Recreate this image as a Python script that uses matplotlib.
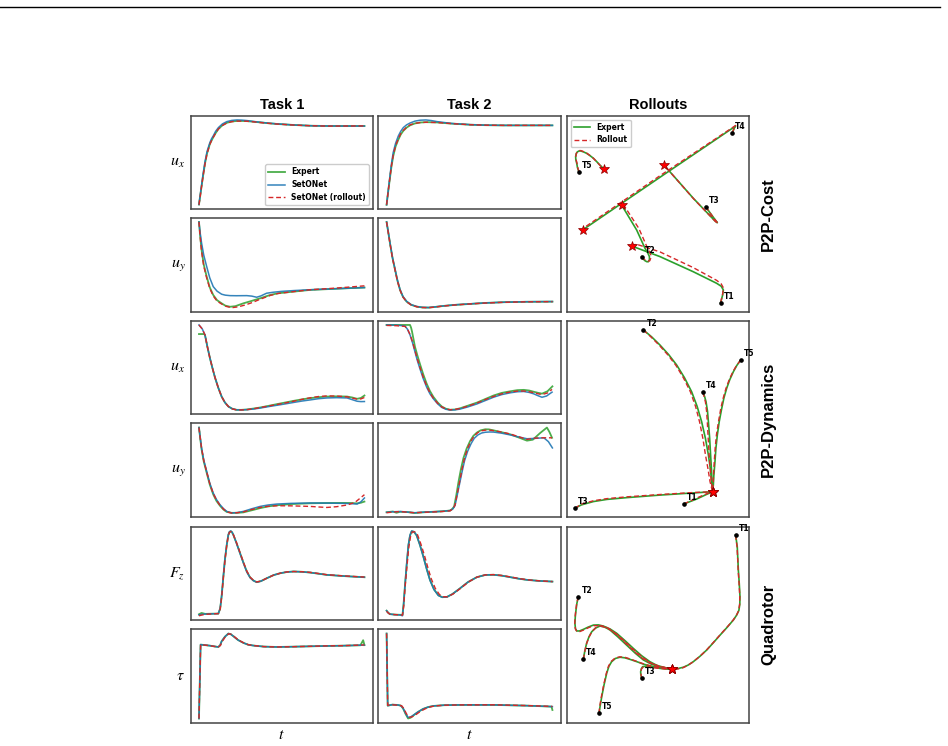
"""
Expert vs SetONet control signals (Task 1 / Task 2) and closed-loop rollouts
for the P2P-Cost, P2P-Dynamics and Quadrotor problems.
Values were read off the published figure (time and signal in % of panel).
"""
import matplotlib
matplotlib.use("Agg")
import matplotlib.pyplot as plt
from matplotlib.lines import Line2D

plt.rcParams.update({
    "font.family": "DejaVu Sans",
    "mathtext.fontset": "stix",
    "axes.linewidth": 1.1,
    "axes.edgecolor": "#444444",
})

C_EXPERT = "tab:green"
C_SETONET = "tab:blue"
C_ROLLOUT = "tab:red"
DASH = (0, (3.5, 2))

# ---------------------------------------------------------------- signals
# (t, value) pairs, both in % of the panel
cost_t1_ux_expert = [(4.6, 4.3), (5.3, 14), (6.0, 23.9), (6.8, 35), (7.9, 49), (9.0, 60), (10.6, 70.4),
                     (11.5, 74), (12.4, 77.5), (13.7, 82), (15.2, 86.5), (17.4, 90.5), (19.8, 93.2),
                     (22.5, 94.6), (25.3, 95.2), (28, 95.2), (30.8, 95.0), (34.5, 94.3), (38.1, 93.6),
                     (42.5, 92.7), (47.3, 91.9), (56.4, 90.8), (65.5, 90.0), (74.7, 89.7), (94.8, 89.7)]
cost_t1_ux_setonet = [(4.6, 4.3), (5.3, 15), (6.0, 25), (6.8, 37), (7.9, 51), (9.0, 62), (10.6, 72),
                      (11.5, 76), (12.4, 79), (13.7, 84), (15.2, 88), (17.4, 92), (19.8, 94.5),
                      (22.5, 95.8), (25.3, 96.3), (28, 96.1), (30.8, 95.6), (34.5, 94.6), (38.1, 93.8),
                      (42.5, 92.8), (47.3, 92.0), (56.4, 90.8), (65.5, 90.0), (74.7, 89.7), (94.8, 89.6)]
cost_t1_ux_rollout = [(4.6, 4.0), (5.3, 13.5), (6.0, 23.5), (6.8, 34.5), (7.9, 48.5), (9.0, 59.5),
                      (10.6, 70), (11.5, 74), (12.4, 77.5), (13.7, 82), (15.2, 86.5), (17.4, 90.3),
                      (19.8, 93.0), (22.5, 94.4), (25.3, 95.0), (28, 95.0), (30.8, 94.9), (34.5, 94.2),
                      (38.1, 93.4), (42.5, 92.6), (47.3, 91.8), (56.4, 90.7), (65.5, 90.0), (74.7, 89.6),
                      (94.8, 89.8)]

cost_t2_ux_expert = [(4.6, 4.3), (5.5, 19), (6.4, 33), (7.2, 45), (8.2, 57), (9.5, 67.5), (11.0, 75),
                     (12.3, 80.5), (13.7, 84.5), (15.5, 88), (17.4, 90.5), (20, 92.5), (22.8, 93.5),
                     (26, 93.9), (32.0, 93.6), (40, 92.3), (50.2, 91.1), (59, 90.6), (68.5, 90.4), (94.8, 90.4)]
cost_t2_ux_setonet = [(4.6, 4.3), (5.5, 20), (6.4, 35), (7.2, 48), (8.2, 61), (9.5, 71), (11.0, 79),
                      (12.3, 84), (13.7, 88), (15.5, 91), (17.4, 93), (20, 95), (22.8, 96), (26, 96.3),
                      (29, 95.6), (32.0, 94.5), (40, 92.5), (50.2, 91.2), (59, 90.6), (68.5, 90.4), (94.8, 90.4)]
cost_t2_ux_rollout = [(4.6, 4.3), (5.5, 19.3), (6.4, 33.5), (7.2, 46), (8.2, 58), (9.5, 68.5), (11.0, 76),
                      (12.3, 81.5), (13.7, 85), (15.5, 88.5), (17.4, 91), (20, 92.6), (22.8, 93.4),
                      (26, 93.8), (32.0, 93.5), (40, 92.3), (50.2, 91.1), (59, 90.6), (68.5, 90.4), (94.8, 90.4)]

cost_t1_uy_expert = [(4.6, 94.7), (5.2, 81), (6.0, 65.7), (7.2, 50), (8.8, 37.4), (10.5, 26), (12.4, 18),
                     (14.5, 12.5), (17.0, 9.2), (19, 6.8), (21.6, 5.6), (24.5, 6.2), (28.9, 9.2), (33, 11.5),
                     (38.1, 14.5), (43.6, 18), (48, 19.8), (56.4, 21.5), (65.5, 23.3), (74.7, 24.1),
                     (85, 25), (95.2, 25.8)]
cost_t1_uy_setonet = [(4.6, 94.7), (5.2, 84), (6.0, 72.9), (7.2, 60), (8.8, 48), (10.5, 36), (12.4, 26.8),
                      (14.5, 22), (17.0, 18.8), (19, 17.8), (21.6, 17.3), (25, 17.2), (30.8, 17.3),
                      (33.5, 16.8), (36.2, 15.6), (38.5, 17), (41.6, 19.8), (45, 20.8), (50, 21.8),
                      (56.4, 22.6), (65.5, 23.5), (74.7, 24.2), (85, 25), (95.2, 25.8)]
cost_t1_uy_rollout = [(4.6, 94.7), (5.2, 80), (6.0, 64), (7.2, 48.5), (8.8, 36), (10.5, 25), (12.4, 17),
                      (14.5, 11.5), (17.0, 8.5), (19.5, 6), (22.5, 4.6), (26, 5.5), (30, 7.5), (34, 10.2),
                      (38.1, 13.5), (43.6, 17.5), (48, 19.6), (56.4, 21.5), (65.5, 23.5), (74.7, 24.6),
                      (85, 26), (95.2, 27.6)]

cost_t2_uy_expert = [(4.6, 94.7), (5.5, 84), (6.4, 72.9), (7.8, 57), (9.2, 44.5), (10.5, 33), (11.9, 23.3),
                     (13.5, 16), (15.5, 10.9), (18, 7.5), (21.0, 5.6), (24, 4.8), (27.4, 4.6), (31, 5.3),
                     (35.6, 6.4), (42, 7.5), (50.2, 8.5), (58, 9.5), (68.5, 10.3), (80, 10.7), (94.8, 10.9)]
cost_t2_uy_setonet = [(4.6, 94.7), (5.5, 84.5), (6.4, 73.5), (7.8, 57.5), (9.2, 45), (10.5, 33.5),
                      (11.9, 23.8), (13.5, 16.3), (15.5, 11.2), (18, 7.7), (21.0, 5.8), (24, 4.9),
                      (27.4, 4.7), (31, 5.4), (35.6, 6.4), (42, 7.6), (50.2, 8.6), (58, 9.5), (68.5, 10.3),
                      (80, 10.8), (94.8, 11.0)]
cost_t2_uy_rollout = [(4.6, 94.7), (5.5, 83.5), (6.4, 72.5), (7.8, 56.5), (9.2, 44), (10.5, 32.5),
                      (11.9, 23), (13.5, 15.7), (15.5, 10.7), (18, 7.3), (21.0, 5.5), (24, 4.7), (27.4, 4.5),
                      (31, 5.2), (35.6, 6.3), (42, 7.4), (50.2, 8.5), (58, 9.4), (68.5, 10.2), (80, 10.7),
                      (94.8, 10.9)]

dyn_t1_ux_expert = [(4.6, 85.5), (7.5, 85.5), (7.9, 84.4), (9.2, 72), (10.6, 59.8), (12, 49), (13.4, 38.9),
                    (15.2, 28), (17.0, 18.8), (18.8, 12.5), (20.7, 8.2), (22.8, 5.8), (25.3, 4.6),
                    (27.8, 4.6), (30.8, 5.0), (34.5, 6.0), (38.1, 7.1), (42.5, 8.8), (47.3, 10.7), (52, 12.5),
                    (56.4, 14.2), (61, 15.8), (65.5, 17.1), (70, 18.1), (74.7, 18.8), (80, 19), (85.7, 18.8),
                    (88.5, 17.8), (91.2, 16.4), (93.3, 17.3), (95.2, 19.9)]
dyn_t1_ux_setonet = [(4.6, 95.2), (6.4, 91), (7.9, 84.4), (9.2, 72), (10.6, 59.8), (12, 49), (13.4, 38.9),
                     (15.2, 28), (17.0, 18.8), (18.8, 12.5), (20.7, 8.2), (22.8, 5.8), (25.3, 4.6),
                     (27.8, 4.6), (30.8, 4.8), (34.5, 5.5), (38.1, 6.5), (42.5, 8), (47.3, 9.5), (52, 11),
                     (56.4, 12.5), (61, 14), (65.5, 15.2), (70, 16.5), (74.7, 17.3), (80, 17.6), (85.7, 17.3),
                     (88.5, 15.5), (91.2, 13.8), (93.3, 13.4), (95.2, 13.5)]
dyn_t1_ux_rollout = [(4.6, 95.2), (6.4, 91), (7.9, 84.4), (9.2, 72), (10.6, 59.8), (12, 49), (13.4, 38.9),
                     (15.2, 28), (17.0, 18.8), (18.8, 12.5), (20.7, 8.2), (22.8, 5.7), (25.3, 4.4),
                     (27.8, 4.5), (30.8, 4.8), (34.5, 5.8), (38.1, 7.0), (42.5, 8.6), (47.3, 10.3), (52, 12),
                     (56.4, 13.8), (61, 15.8), (65.5, 17.5), (70, 18.8), (74.7, 19.5), (80, 19.3),
                     (85.7, 18.5), (88.5, 17.2), (91.2, 16.0), (93.3, 16.3), (95.2, 17.8)]

dyn_t2_ux_expert = [(4.6, 95), (17.4, 95), (18.0, 92), (18.5, 88), (19.3, 80), (20.1, 72), (21.4, 63),
                    (22.8, 54), (24.6, 43), (26.5, 33), (28.3, 25.2), (30.2, 19), (32.5, 13.2), (34.7, 9),
                    (37, 6.6), (39.3, 5.5), (42, 5.8), (44.7, 7), (49, 9.8), (53.9, 13), (58.5, 16.8),
                    (63.0, 20.5), (67.5, 23.3), (72.2, 25), (76, 26.2), (79.5, 26.5), (82.5, 25.8),
                    (85.0, 24.5), (87.5, 23.3), (89.5, 22.5), (92.5, 25), (95.2, 30.2)]
dyn_t2_ux_setonet = [(4.6, 95), (10, 94.8), (14.6, 94), (16, 90.5), (17.4, 84.5), (18.8, 76), (20.1, 66.7),
                     (21.4, 57.5), (22.8, 48.9), (24.6, 38.5), (26.5, 29.3), (28.3, 22.3), (30.2, 17),
                     (32.5, 11.8), (34.7, 8), (37, 6), (39.3, 5.2), (42, 5.4), (44.7, 6.2), (49, 8.5),
                     (53.9, 11.6), (58.5, 15.2), (63.0, 18.7), (67.5, 21.5), (72.2, 23.4), (76, 24.5),
                     (79.5, 24.8), (82.5, 23.8), (85.0, 22.3), (87.5, 20.2), (89.5, 18.7), (92, 20), (95.0, 24.1)]
dyn_t2_ux_rollout = [(4.6, 94.5), (10, 94.2), (14.6, 93.5), (16, 90.8), (17.4, 85), (18.8, 77), (20.1, 68),
                     (21.4, 59), (22.8, 50.5), (24.6, 40), (26.5, 30.5), (28.3, 23.3), (30.2, 17.5),
                     (32.5, 12.3), (34.7, 8.5), (37, 6.4), (39.3, 5.5), (42, 5.9), (44.7, 6.8), (49, 9.3),
                     (53.9, 12.5), (58.5, 16.2), (63.0, 19.5), (67.5, 22.3), (72.2, 24.3), (76, 25.2),
                     (79.5, 25.3), (82.5, 24.5), (85.0, 23.5), (87.5, 22.3), (89.5, 21.5), (92.5, 23.2),
                     (95.0, 27)]

dyn_t1_uy_expert = [(4.6, 94.7), (5.3, 83), (6.0, 72), (7.2, 59), (8.8, 47), (10.5, 34.5), (12.4, 24),
                    (14.2, 17), (16.1, 12), (18, 8), (19.8, 5.5), (22.5, 4.5), (25.5, 4.5), (28.9, 5.0),
                    (33.5, 7.2), (38.1, 9.5), (42.5, 11.3), (47.3, 12.5), (55, 13.8), (65.5, 14.6),
                    (75, 14.9), (83.9, 15.0), (88, 14.9), (91.2, 14.5), (93.3, 15.2), (95.2, 16.4)]
dyn_t1_uy_setonet = [(4.6, 94.7), (5.3, 84), (6.0, 73.4), (7.2, 60.5), (8.8, 48.5), (10.5, 36), (12.4, 25.5),
                     (14.2, 18.5), (16.1, 13.1), (18, 9), (19.8, 6.0), (22.5, 4.3), (25.5, 4.8), (28.9, 6.0),
                     (33.5, 8.8), (38.1, 11.3), (42.5, 12.8), (47.3, 13.8), (55, 14.5), (65.5, 14.9),
                     (75, 14.8), (83.9, 14.5), (88, 14.2), (91.2, 13.8), (93.3, 16.2), (95.2, 20.2)]
dyn_t1_uy_rollout = [(4.6, 94.7), (5.3, 83.5), (6.0, 73), (7.2, 60), (8.8, 48), (10.5, 35.5), (12.4, 25),
                     (14.2, 18), (16.1, 12.5), (18, 8.5), (19.8, 5.5), (22.5, 4.3), (25.5, 4.6), (28.9, 5.5),
                     (33.5, 8), (38.1, 10.2), (42.5, 11.4), (47.3, 12.0), (55, 11.9), (65.5, 11.3),
                     (70, 10.7), (74.7, 10.2), (80, 11), (85.7, 12.8), (90, 15.5), (95.2, 23.7)]

dyn_t2_uy_expert = [(4.6, 6.0), (8, 6.8), (10, 5.5), (12, 6.5), (16, 6.2), (20, 5.2), (25, 6.0), (30, 6.5),
                    (35, 7), (39.3, 7.8), (40.5, 9.5), (41.5, 12), (42.7, 24), (43.9, 37.9), (45.2, 51),
                    (46.6, 62.8), (48.3, 72.5), (50.2, 80.5), (52, 86), (53.9, 89.4), (56, 91.8), (58.5, 92.9),
                    (60.5, 92.8), (63.0, 91.8), (67.5, 89.8), (72.2, 87.6), (76.5, 84.5), (81.3, 81),
                    (84.5, 82), (88.5, 89), (92.2, 94.7), (93.6, 90), (95.0, 84)]
dyn_t2_uy_setonet = [(4.6, 6.0), (8, 6.5), (12, 6.8), (16, 6.2), (20, 5.5), (25, 6.2), (30, 6.5), (35, 7),
                     (39.3, 7.8), (40.8, 9.5), (42.0, 13.1), (43.2, 24), (44.5, 36), (45.8, 48), (47.2, 60),
                     (48.9, 70), (50.8, 78), (52.5, 83.5), (54.5, 87), (56.5, 89), (58.5, 89.8), (61, 90.1),
                     (63.0, 90), (67.5, 88.8), (72.2, 87), (76.5, 85), (81.3, 83), (85, 83.3), (90.5, 84),
                     (93, 80), (95.2, 73.4)]
dyn_t2_uy_rollout = [(4.6, 5.5), (8, 6.2), (12, 6.8), (16, 6.0), (20, 5.5), (25, 6.0), (30, 6.3), (35, 6.8),
                     (39.3, 7.5), (40.8, 9.6), (42.0, 13.5), (43.2, 25), (44.5, 38), (45.8, 51), (47.2, 63),
                     (48.9, 73), (50.8, 81), (52.5, 86), (54.5, 89.5), (56.5, 91.3), (58.5, 92), (61, 92),
                     (63.0, 91.5), (67.5, 90), (72.2, 88), (76.5, 85.3), (81.3, 82.3), (85, 83.5),
                     (88.6, 84), (95.0, 84)]

quad_t1_fz_expert = [(4.6, 6.1), (6.0, 7.5), (8.0, 6.5), (12, 6.7), (15.2, 6.8), (16.2, 12), (17.0, 25),
                     (17.9, 45), (18.8, 64.3), (19.8, 80), (20.7, 91.1), (21.3, 94), (22.0, 94.9),
                     (22.7, 93.8), (23.4, 91.1), (25.2, 82), (27.1, 71.5), (29.0, 61), (30.8, 51.8),
                     (32.6, 45.5), (34.4, 42.2), (36.2, 40.4), (38.5, 41.5), (41.8, 44.7), (45.5, 48),
                     (49.1, 50), (52.8, 51.3), (56.4, 51.8), (61, 51.5), (65.5, 50.7), (70, 49.5),
                     (74.7, 48.2), (85, 46.8), (95.2, 45.7)]
quad_t1_fz_setonet = [(4.6, 5.5), (6.0, 6.0), (8.0, 6.3), (12, 6.6), (15.2, 6.8), (16.2, 12.5), (17.0, 25.5),
                      (17.9, 46), (18.8, 65), (19.8, 80.8), (20.7, 91.5), (21.3, 94.4), (22.0, 95.2),
                      (22.7, 94.0), (23.4, 91.3), (25.2, 81.7), (27.1, 71), (29.0, 60.5), (30.8, 51.3),
                      (32.6, 45.2), (34.4, 42), (36.2, 40.4), (38.5, 41.5), (41.8, 44.7), (45.5, 48),
                      (49.1, 50), (52.8, 51.3), (56.4, 51.8), (61, 51.5), (65.5, 50.7), (70, 49.5),
                      (74.7, 48.2), (85, 46.8), (95.2, 45.7)]
quad_t1_fz_rollout = [(4.6, 4.5), (6.0, 5.2), (8.0, 6.0), (12, 6.5), (15.2, 6.8), (16.2, 11.5), (17.0, 24),
                      (17.9, 44), (18.8, 63), (19.8, 79.5), (20.7, 90.5), (21.3, 93.7), (22.0, 94.6),
                      (22.7, 93.8), (23.4, 91.3), (25.2, 82.5), (27.1, 72), (29.0, 61.5), (30.8, 52.3),
                      (32.6, 45.8), (34.4, 42.5), (36.2, 40.6), (38.5, 41.6), (41.8, 44.7), (45.5, 48),
                      (49.1, 50), (52.8, 51.4), (56.4, 51.8), (61, 51.6), (65.5, 50.9), (70, 49.7),
                      (74.7, 48.4), (85, 47), (95.2, 45.9)]

quad_t2_fz_expert = [(4.6, 10.7), (5.5, 8.5), (6.4, 7.1), (9, 6.6), (11.9, 6.4), (13.3, 6.4), (13.9, 18),
                     (14.6, 35.7), (15.5, 57), (16.5, 78.6), (17.4, 89), (18.3, 93.6), (19.6, 93), (21.0, 89.3),
                     (22.8, 79.5), (24.6, 67.9), (26.5, 54.5), (28.3, 42.9), (30.5, 33), (32.9, 26.8),
                     (35.0, 24.8), (37.5, 25), (40.5, 28), (44.7, 34), (49.0, 40.5), (53.9, 45.7), (58.5, 48),
                     (63.0, 48.2), (67.5, 47.3), (72.2, 45.7), (76.5, 44.2), (81.3, 42.9), (88, 41.8),
                     (95.2, 41.1)]
quad_t2_fz_setonet = [(4.6, 10.7), (5.5, 8.5), (6.4, 7.1), (9, 6.6), (11.9, 6.2), (13.3, 5.4), (13.9, 17),
                      (14.6, 35.7), (15.5, 58), (16.5, 79.5), (17.4, 89.8), (18.3, 94.0), (19.6, 93.3),
                      (21.0, 89.5), (22.8, 79.3), (24.6, 67.5), (26.5, 54), (28.3, 42.5), (30.5, 32.7),
                      (32.9, 26.5), (35.0, 24.7), (37.5, 25), (40.5, 28), (44.7, 34), (49.0, 40.5),
                      (53.9, 45.7), (58.5, 48), (63.0, 48.2), (67.5, 47.3), (72.2, 45.7), (76.5, 44.2),
                      (81.3, 42.9), (88, 41.8), (95.2, 41.1)]
quad_t2_fz_rollout = [(4.6, 10.0), (5.5, 8.3), (6.4, 7.1), (9, 6.6), (11.9, 6.4), (13.3, 6.0), (14.0, 16),
                      (14.6, 33), (15.6, 54), (16.6, 75), (17.6, 87.5), (18.6, 93), (20, 93), (21.5, 90),
                      (23.3, 80.5), (25.2, 69), (27.1, 56), (29.0, 44), (31.2, 34), (33.5, 27.5),
                      (35.6, 25.2), (38.0, 25.3), (41, 28.2), (45.0, 34), (49.3, 40.6), (53.9, 45.7),
                      (58.5, 48.1), (63.0, 48.4), (67.5, 47.5), (72.2, 46), (76.5, 44.5), (81.3, 43),
                      (88, 41.9), (95.2, 41.1)]

quad_t1_tau_expert = [(4.6, 4.5), (5.5, 83.1), (10.6, 82), (13, 81.2), (15.2, 80.6), (16.2, 82.5),
                      (17.0, 86.6), (18.8, 91.5), (20.7, 94.9), (22.0, 94.2), (23.4, 92.1), (26.0, 88),
                      (28.9, 85), (31.5, 83), (34.4, 82.1), (40, 81), (47.3, 80.6), (56, 80.9), (65.5, 81.3),
                      (75, 81.7), (83.9, 82), (93.0, 82.4), (94.5, 87.8), (95.2, 82.6)]
quad_t1_tau_setonet = [(4.6, 4.5), (5.5, 83.1), (10.6, 82), (13, 81.2), (15.2, 80.6), (16.2, 82.5),
                       (17.0, 86.6), (18.8, 91.5), (20.7, 94.9), (22.0, 94.2), (23.4, 92.1), (26.0, 88),
                       (28.9, 85), (31.5, 83), (34.4, 82.1), (40, 81), (47.3, 80.6), (56, 80.9),
                       (65.5, 81.3), (75, 81.7), (83.9, 82), (95.2, 82.6)]
quad_t1_tau_rollout = [(4.6, 4.5), (5.5, 83.1), (10.6, 82), (13, 81.2), (15.2, 80.6), (16.4, 82.3),
                       (17.2, 86.2), (19.0, 91.3), (20.9, 94.7), (22.2, 94.1), (23.6, 92.1), (26.2, 88),
                       (29.1, 85), (31.7, 83), (34.6, 82.1), (40, 81), (47.3, 80.6), (56, 80.9),
                       (65.5, 81.3), (75, 81.8), (83.9, 82), (95.2, 82.8)]

quad_t2_tau_expert = [(4.8, 93.8), (5.4, 17.1), (8.0, 18.2), (11, 17.8), (12.6, 17.1), (13.8, 14),
                      (15.2, 8), (16.5, 3.5), (17.8, 4.2), (19.2, 6.4), (21.8, 10.2), (24.6, 13.6),
                      (27.4, 15.6), (30.2, 16.8), (36, 17.6), (44.7, 17.9), (63.0, 17.9), (81.3, 17.1),
                      (94.5, 16.1), (95.0, 12.5)]
quad_t2_tau_setonet = [(4.8, 93.8), (5.4, 17.1), (8.0, 18.2), (11, 17.8), (12.6, 17.1), (13.8, 14.3),
                       (15.2, 8.6), (16.5, 4.6), (17.8, 5.0), (19.2, 6.8), (21.8, 10.4), (24.6, 13.6),
                       (27.4, 15.6), (30.2, 16.8), (36, 17.6), (44.7, 17.9), (63.0, 17.9), (81.3, 17.1),
                       (95.0, 16.1)]
quad_t2_tau_rollout = [(4.8, 93.8), (5.4, 17.5), (8.0, 18.0), (11, 17.6), (13.0, 17.0), (14.2, 14),
                       (15.6, 8.5), (17.0, 4.8), (18.3, 5.0), (20.0, 6.5), (22.6, 10.2), (25.5, 13.5),
                       (28.2, 15.6), (31.0, 16.8), (36.5, 17.6), (44.7, 17.9), (63.0, 18.0), (81.3, 17.2),
                       (95.0, 16.3)]

ROW_LABELS = [r"$u_x$", r"$u_y$", r"$u_x$", r"$u_y$", r"$F_z$", r"$\tau$"]
TASK1 = [
    (cost_t1_ux_expert, cost_t1_ux_setonet, cost_t1_ux_rollout),
    (cost_t1_uy_expert, cost_t1_uy_setonet, cost_t1_uy_rollout),
    (dyn_t1_ux_expert, dyn_t1_ux_setonet, dyn_t1_ux_rollout),
    (dyn_t1_uy_expert, dyn_t1_uy_setonet, dyn_t1_uy_rollout),
    (quad_t1_fz_expert, quad_t1_fz_setonet, quad_t1_fz_rollout),
    (quad_t1_tau_expert, quad_t1_tau_setonet, quad_t1_tau_rollout),
]
TASK2 = [
    (cost_t2_ux_expert, cost_t2_ux_setonet, cost_t2_ux_rollout),
    (cost_t2_uy_expert, cost_t2_uy_setonet, cost_t2_uy_rollout),
    (dyn_t2_ux_expert, dyn_t2_ux_setonet, dyn_t2_ux_rollout),
    (dyn_t2_uy_expert, dyn_t2_uy_setonet, dyn_t2_uy_rollout),
    (quad_t2_fz_expert, quad_t2_fz_setonet, quad_t2_fz_rollout),
    (quad_t2_tau_expert, quad_t2_tau_setonet, quad_t2_tau_rollout),
]

# ---------------------------------------------------------------- rollouts
# (x, y) in % of the panel; first point = start, last point = goal
cost_expert = {
    "T1": [(84.3, 4.6), (85.4, 8.5), (85.8, 11.1), (84.6, 13.0), (82.1, 14.5), (69.3, 20.4), (51.1, 28.1),
           (35.6, 33.5)],
    "T2": [(41.1, 28.1), (42.0, 26.8), (42.9, 26.0), (43.9, 25.5), (44.7, 25.5), (45.3, 26.5), (45.3, 28.1),
           (44.3, 30.2), (42.9, 32.3), (38.3, 41.7), (30.1, 54.4)],
    "T3": [(76.1, 53.6), (79.4, 49.3), (82.5, 45.4), (81.2, 46.3), (69.3, 57.9), (53.3, 74.8)],
    "T4": [(90.7, 91.3), (92.0, 94.1), (92.5, 94.7), (51.1, 68.6), (8.7, 41.7)],
    "T5": [(6.7, 71.4), (5.9, 73.5), (5.5, 75.7), (5.0, 77.5), (4.9, 79.1), (5.2, 80.6), (5.8, 81.5),
           (6.7, 82.0), (7.7, 82.0), (9.3, 81.5), (10.9, 80.8), (12.8, 79.6), (14.6, 78.3), (16.4, 76.6),
           (18.2, 74.8), (20.6, 72.6)],
}
cost_rollout = {
    "T1": [(84.3, 4.6), (85.4, 9.0), (85.8, 12.2), (84.6, 14.2), (82.1, 16.0), (69.3, 22.5), (51.1, 30.5),
           (38.0, 34.5), (35.6, 33.5)],
    "T2": [(41.1, 28.1), (42.3, 26.8), (43.5, 26.2), (44.6, 25.8), (45.5, 26.0), (46.0, 27.3), (46.0, 29.0),
           (45.2, 31.0), (44.0, 33.0), (39.5, 42.5), (31.5, 54.0), (30.1, 54.4)],
    "T3": [(76.1, 53.6), (79.6, 49.0), (82.8, 45.0), (81.5, 46.0), (69.6, 57.5), (53.3, 74.8)],
    "T4": [(90.7, 91.3), (92.0, 94.3), (92.5, 95.0), (51.1, 69.4), (10.5, 43.5), (8.7, 41.7)],
    "T5": [(6.7, 71.4), (6.0, 73.7), (5.6, 75.9), (5.1, 77.7), (5.0, 79.3), (5.3, 80.8), (5.9, 81.7),
           (6.8, 82.2), (7.8, 82.2), (9.4, 81.6), (11.0, 80.9), (12.9, 79.6), (14.7, 78.2), (16.5, 76.4),
           (18.3, 74.6), (20.6, 72.6)],
}

dyn_expert = {
    "T1": [(64.2, 6.8), (71.2, 9.3), (76.7, 11.7), (79.9, 13.0)],
    "T2": [(42.0, 95.3), (46.5, 91.8), (51.1, 87.6), (55.8, 82.8), (60.2, 77.5), (64.5, 71.0), (68.4, 63.9),
           (71.4, 56.5), (73.9, 48.6), (76.0, 40.0), (77.6, 31.7), (78.7, 24.5), (79.4, 18.1), (79.9, 13.0)],
    "T3": [(4.5, 4.6), (8.0, 6.3), (14.6, 8.0), (22.0, 9.1), (32.8, 10.0), (51.1, 11.3), (69.3, 12.4),
           (79.9, 13.0)],
    "T4": [(74.5, 63.6), (75.5, 61.5), (76.3, 58.8), (77.1, 54.0), (77.6, 48.6), (78.3, 40.0), (78.8, 31.7),
           (79.3, 24.0), (79.6, 18.1), (79.9, 13.0)],
    "T5": [(95.3, 80.0), (93.2, 77.3), (91.3, 74.1), (89.3, 70.0), (87.6, 65.6), (86.1, 60.7), (84.9, 55.4),
           (83.5, 48.5), (82.5, 41.9), (81.7, 35.0), (81.2, 28.3), (80.6, 21.5), (80.3, 16.4), (79.9, 13.0)],
}
dyn_rollout = {
    "T1": [(64.2, 6.8), (71.2, 9.8), (76.7, 12.0), (79.9, 13.0)],
    "T2": [(42.0, 95.3), (46.3, 91.6), (50.8, 87.4), (55.4, 82.6), (59.8, 77.3), (64.0, 70.8), (67.8, 63.7),
           (70.6, 56.3), (72.8, 48.4), (74.6, 40.0), (76.0, 31.7), (77.4, 24.5), (78.5, 18.1), (79.9, 13.0)],
    "T3": [(4.5, 4.6), (8.0, 6.7), (14.6, 8.4), (22.0, 9.5), (32.8, 10.4), (51.1, 11.6), (69.3, 12.6),
           (79.9, 13.0)],
    "T4": [(74.5, 63.6), (75.3, 61.3), (76.0, 58.5), (76.6, 54.0), (77.0, 48.6), (77.5, 40.0), (78.0, 31.7),
           (78.7, 24.0), (79.2, 18.1), (79.9, 13.0)],
    "T5": [(95.3, 80.0), (93.0, 77.2), (91.0, 74.0), (89.0, 70.0), (87.2, 65.5), (85.7, 60.6), (84.4, 55.4),
           (83.1, 48.5), (82.0, 41.9), (81.3, 35.0), (80.8, 28.3), (80.4, 21.5), (80.2, 16.4), (79.9, 13.0)],
}

quad_expert = {
    "T1": [(92.5, 95.8), (93.0, 92.5), (93.4, 89.8), (93.7, 84.0), (94.0, 77.9), (94.5, 71.0), (94.9, 64.3),
           (94.8, 60.5), (94.3, 57.3), (93.0, 54.8), (91.3, 52.4), (87.8, 48.6), (84.0, 44.7), (80.3, 40.8),
           (76.7, 37.1), (73.0, 33.9), (69.3, 31.1), (66.5, 29.4), (63.9, 28.3), (60.8, 27.6), (57.8, 27.2)],
    "T2": [(6.4, 64.3), (5.6, 61.0), (5.1, 57.5), (4.7, 54.0), (4.5, 50.7), (4.8, 48.0), (5.5, 46.8),
           (7.0, 46.8), (9.1, 47.6), (11.8, 48.8), (14.6, 49.8), (17.4, 49.9), (20.1, 49.3), (23.8, 47.8),
           (27.4, 45.6), (32.0, 41.8), (36.5, 37.9), (41.0, 34.2), (45.6, 31.1), (49.5, 29.2), (52.9, 28.3),
           (57.8, 27.2)],
    "T3": [(41.1, 22.6), (40.6, 24.5), (40.5, 26.0), (40.9, 27.6), (41.6, 28.6), (44.0, 28.9), (47.4, 28.6),
           (52.0, 27.9), (57.8, 27.2)],
    "T4": [(9.1, 32.3), (9.9, 36.5), (10.9, 40.5), (12.2, 43.8), (13.7, 46.4), (15.8, 48.3), (18.2, 49.3),
           (20.8, 48.8), (23.7, 47.3), (28.0, 43.8), (32.8, 39.6), (37.5, 35.5), (42.0, 32.0), (46.5, 29.8),
           (51.1, 28.6), (57.8, 27.2)],
    "T5": [(17.7, 4.8), (18.4, 9.0), (19.2, 13.3), (20.5, 19.5), (21.9, 25.2), (23.1, 28.7), (24.6, 31.1),
           (26.7, 32.8), (29.2, 33.4), (31.9, 33.1), (34.7, 32.3), (38.5, 31.1), (42.0, 29.9), (46.5, 28.7),
           (51.1, 27.7), (57.8, 27.2)],
}
quad_rollout = {
    "T1": [(92.5, 95.8), (92.9, 92.5), (93.3, 89.8), (93.6, 84.0), (93.9, 77.9), (94.4, 71.0), (94.8, 64.3),
           (94.7, 60.3), (94.1, 57.0), (92.8, 54.5), (91.0, 52.2), (87.5, 48.4), (83.7, 44.5), (80.0, 40.6),
           (76.4, 36.9), (72.7, 33.7), (69.0, 30.9), (66.2, 29.2), (63.6, 28.0), (60.6, 27.4), (57.8, 27.2)],
    "T2": [(6.4, 64.3), (5.5, 61.0), (5.0, 57.5), (4.6, 54.0), (4.4, 50.5), (4.8, 47.7), (5.6, 46.5),
           (7.2, 46.5), (9.3, 47.3), (12.0, 48.5), (14.8, 49.5), (17.6, 49.5), (20.3, 48.9), (24.0, 47.3),
           (27.6, 45.0), (32.2, 41.2), (36.7, 37.2), (41.2, 33.6), (45.8, 30.6), (49.7, 28.8), (53.0, 28.0),
           (57.8, 27.2)],
    "T3": [(41.1, 22.6), (40.7, 24.6), (40.6, 26.2), (41.0, 27.5), (41.8, 28.3), (44.2, 28.5), (47.6, 28.0),
           (52.2, 27.6), (57.8, 27.2)],
    "T4": [(9.1, 32.3), (10.0, 36.7), (11.0, 40.7), (12.4, 44.0), (13.9, 46.6), (16.0, 48.5), (18.4, 49.5),
           (21.0, 49.1), (24.0, 47.5), (28.3, 44.1), (33.0, 39.9), (37.7, 35.8), (42.2, 32.3), (46.7, 30.0),
           (51.3, 28.8), (57.8, 27.2)],
    "T5": [(17.7, 4.8), (18.2, 9.0), (19.0, 13.3), (20.3, 19.5), (21.7, 25.2), (22.9, 28.9), (24.4, 31.3),
           (26.5, 33.0), (29.0, 33.6), (31.7, 33.4), (34.5, 32.6), (38.3, 31.3), (41.8, 30.1), (46.3, 28.9),
           (51.0, 27.9), (57.8, 27.2)],
}

ROLLOUT_PANELS = [
    ("P2P-Cost", cost_expert, cost_rollout),
    ("P2P-Dynamics", dyn_expert, dyn_rollout),
    ("Quadrotor", quad_expert, quad_rollout),
]

# ---------------------------------------------------------------- layout (px)
W, H = 948, 746
COL_X = [(190.7, 372.7), (378.3, 560.7), (566.7, 749.3)]
TASK_ROW_Y = [(115.7, 209.0), (217.7, 312.0), (320.7, 414.3),
              (423.3, 517.3), (526.7, 620.0), (629.3, 722.7)]
ROLL_ROW_Y = [(115.7, 311.7), (320.7, 517.3), (526.7, 722.7)]
TITLE_FONT = dict(fontsize=10.5, fontweight="bold", family="Liberation Sans")
SIDE_FONT = dict(fontsize=12, fontweight="bold", family="Liberation Sans")


def add_panel(fig, xs, ys):
    (l, r), (t, b) = xs, ys
    ax = fig.add_axes([l / W, 1 - b / H, (r - l) / W, (b - t) / H])
    ax.set_xticks([])
    ax.set_yticks([])
    return ax


def plot_signals(ax, expert, setonet, rollout):
    t, y = zip(*expert)
    ax.plot(t, y, color=C_EXPERT, lw=1.3, alpha=0.85, label="Expert")
    t, y = zip(*setonet)
    ax.plot(t, y, color=C_SETONET, lw=1.1, alpha=0.9, label="SetONet")
    t, y = zip(*rollout)
    ax.plot(t, y, color=C_ROLLOUT, lw=1.0, ls=DASH, label="SetONet (rollout)")


def plot_rollouts(ax, expert, rollout):
    for name, path in expert.items():
        x, y = zip(*path)
        ax.plot(x, y, color=C_EXPERT, lw=1.2, zorder=2)
        x, y = zip(*rollout[name])
        ax.plot(x, y, color=C_ROLLOUT, lw=1.0, ls=DASH, zorder=3)
        ax.plot(path[0][0], path[0][1], "o", color="black", ms=2.3, zorder=4)
        ax.annotate(name, path[0], xytext=(3, 2), textcoords="offset pixels",
                    fontsize=5.5, fontweight="bold", ha="left", va="bottom", zorder=5)
    for path in expert.values():
        ax.plot(path[-1][0], path[-1][1], "*", color="red", mec="darkred", mew=0.5,
                ms=7, zorder=6)
    ax.set_xlim(0, 100)
    ax.set_ylim(0, 100)


def main():
    fig = plt.figure(figsize=(W / 100, H / 100), dpi=100)
    fig.add_artist(Line2D([0, 0.992], [1 - 6.5 / H] * 2, color="black", lw=1.0))

    for i, ys in enumerate(TASK_ROW_Y):
        for j, data in enumerate((TASK1[i], TASK2[i])):
            ax = add_panel(fig, COL_X[j], ys)
            plot_signals(ax, *data)
            if j == 0:
                ax.set_ylabel(ROW_LABELS[i], rotation=0, fontsize=11.5, ha="right", va="center")
                ax.yaxis.set_label_coords(-0.03, 0.5)
            if i == 0:
                ax.set_title(f"Task {j + 1}", pad=4.5, **TITLE_FONT)
                if j == 0:
                    ax.legend(loc="lower right", prop={"size": 5.5, "weight": "bold"},
                              handlelength=2.2, framealpha=1, edgecolor="#cccccc")
            if i == len(TASK_ROW_Y) - 1:
                ax.text(0.5, -0.13, r"$t$", transform=ax.transAxes, fontsize=11.5,
                        ha="center", va="center")

    for k, (name, expert, rollout) in enumerate(ROLLOUT_PANELS):
        ax = add_panel(fig, COL_X[2], ROLL_ROW_Y[k])
        plot_rollouts(ax, expert, rollout)
        ax.text(1.105, 0.5, name, transform=ax.transAxes, rotation=90,
                ha="center", va="center", **SIDE_FONT)
        if k == 0:
            ax.set_title("Rollouts", pad=4.5, **TITLE_FONT)
            handles = [Line2D([], [], color=C_EXPERT, lw=1.2),
                       Line2D([], [], color=C_ROLLOUT, lw=1.0, ls=DASH)]
            ax.legend(handles, ["Expert", "Rollout"], loc="upper left",
                      prop={"size": 5.5, "weight": "bold"}, handlelength=2.2,
                      framealpha=1, edgecolor="#cccccc")

    fig.savefig("out.png", dpi=100)
    plt.close(fig)


if __name__ == "__main__":
    main()
